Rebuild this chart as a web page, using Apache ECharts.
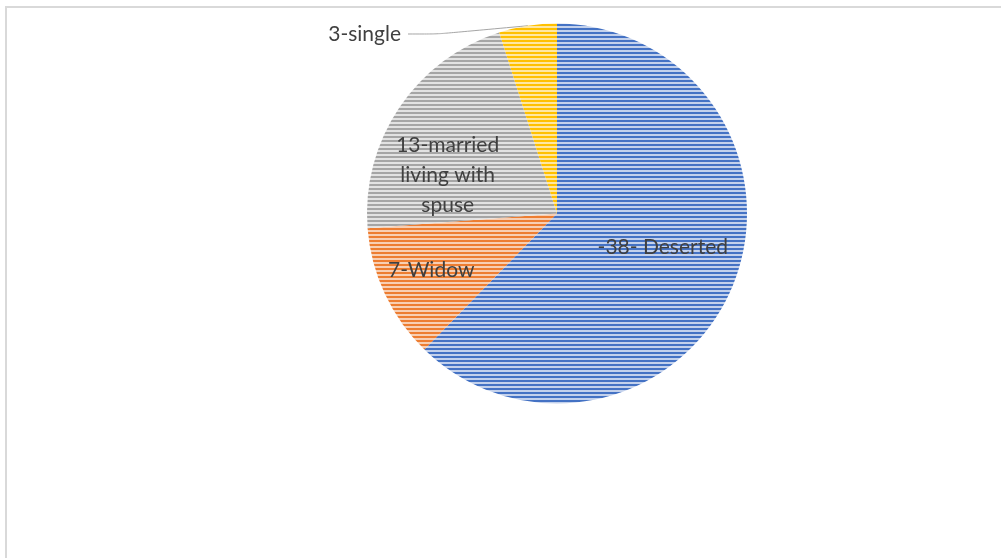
<!DOCTYPE html>
<html>
<head>
<meta charset="utf-8">
<script src="https://cdn.jsdelivr.net/npm/echarts@6/dist/echarts.min.js"></script>
<style>
  html, body { margin: 0; padding: 0; background: #fff; }
  #chart { width: 1001px; height: 558px; }
</style>
</head>
<body>
<div id="chart"></div>
<script>
// Marital status counts
const categories = ['Deserted', 'Widow', 'married living with spuse', 'single'];
const counts = [38, 7, 13, 3];
const labelTexts = ['-38- Deserted', '7-Widow', '13-married\nliving with\nspuse', '3-single'];

// Slice colours: stripe colour and the lighter band between stripes
const stripeColors = ['#4472C4', '#ED7D31', '#A5A5A5', '#FFC000'];
const bandColors = ['#C3D1EC', '#F8CFB3', '#E2E2E2', '#FFE7A1'];

// Per-slice label nudges from the default inside position
const labelShift = [[15, -3], [-37, 15], [-28, 16], [0, 0]];

function stripes(fg, bg) {
  const c = document.createElement('canvas');
  c.width = 4; c.height = 4;
  const g = c.getContext('2d');
  g.fillStyle = bg; g.fillRect(0, 0, 4, 4);
  g.fillStyle = fg; g.fillRect(0, 0, 4, 2);
  return { image: c, repeat: 'repeat' };
}

const chart = echarts.init(document.getElementById('chart'));

const textStyle = {
  fontFamily: 'Lato, "Noto Sans", sans-serif',
  fontSize: 21,
  color: '#404040',
  lineHeight: 30
};

const data = categories.map((name, i) => ({
  name: name,
  value: counts[i],
  itemStyle: { color: stripes(stripeColors[i], bandColors[i]) },
  label: Object.assign({
    show: true,
    position: i === 3 ? 'outside' : 'inside',
    formatter: labelTexts[i],
    align: 'center',
    padding: i === 3 ? [0, 7, 0, 0] : 0
  }, textStyle),
  labelLine: {
    show: i === 3,
    smooth: 0.2,
    lineStyle: { color: '#A5A5A5', width: 1 }
  }
}));

chart.setOption({
  backgroundColor: '#fff',
  animation: false,
  graphic: [{
    type: 'rect',
    shape: { x: 6, y: 7, width: 1000, height: 560 },
    style: { fill: 'none', stroke: '#D9D9D9', lineWidth: 2 },
    silent: true
  }],
  series: [{
    type: 'pie',
    center: [557, 213.5],
    radius: 190,
    startAngle: 90,
    clockwise: true,
    avoidLabelOverlap: false,
    emphasis: { disabled: true },
    labelLayout: function (p) {
      if (p.dataIndex === 3) {
        return { x: 408, y: 34, align: 'right', verticalAlign: 'middle' };
      }
      const s = labelShift[p.dataIndex];
      return { dx: s[0], dy: s[1] };
    },
    data: data
  }]
});
</script>
</body>
</html>
